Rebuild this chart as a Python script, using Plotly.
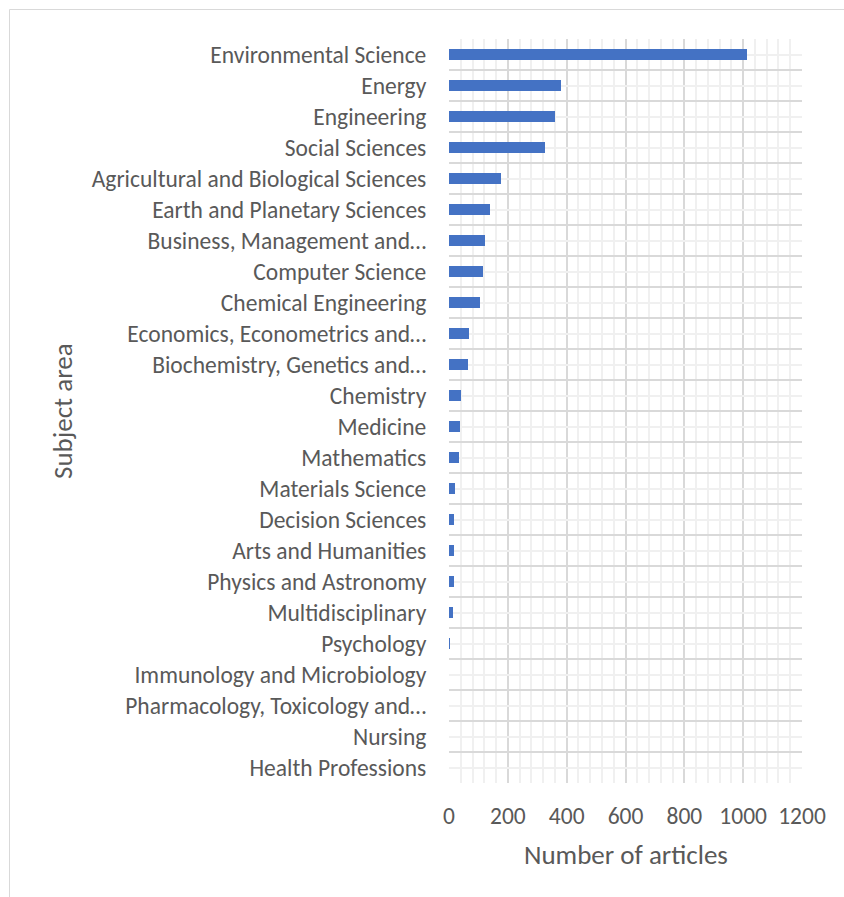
import plotly.graph_objects as go

# Articles per subject area (top to bottom as listed)
subjects = [
    "Environmental Science",
    "Energy",
    "Engineering",
    "Social Sciences",
    "Agricultural and Biological Sciences",
    "Earth and Planetary Sciences",
    "Business, Management and…",
    "Computer Science",
    "Chemical Engineering",
    "Economics, Econometrics and…",
    "Biochemistry, Genetics and…",
    "Chemistry",
    "Medicine",
    "Mathematics",
    "Materials Science",
    "Decision Sciences",
    "Arts and Humanities",
    "Physics and Astronomy",
    "Multidisciplinary",
    "Psychology",
    "Immunology and Microbiology",
    "Pharmacology, Toxicology and…",
    "Nursing",
    "Health Professions",
]
articles = [1013, 381, 360, 328, 178, 139, 122, 117, 104, 69, 63,
            40, 37, 34, 20, 18, 16, 16, 12, 2, 0, 0, 0, 0]

x_ticks = [0, 200, 400, 600, 800, 1000, 1200]
x_title = "Number of articles"
y_title = "Subject area"

FONT = "Carlito, Calibri, 'Open Sans', sans-serif"
TXT = "#595959"
MAJOR = "#D9D9D9"
MINOR = "#F0F0F0"
FS = 23.5
FS_TITLE = 27

n = len(subjects)
pos = list(range(n))
bounds = [i - 0.5 for i in range(n + 1)]

fig = go.Figure(
    go.Bar(
        x=articles,
        y=pos,
        orientation="h",
        width=0.36,
        marker=dict(color="#4472C4", line=dict(width=0)),
    )
)

W, H = 844, 897
L, R, T, B = 449, 42, 39, 114
pw, ph = W - L - R, H - T - B

fig.update_layout(
    width=W,
    height=H,
    margin=dict(l=L, r=R, t=T, b=B, autoexpand=False),
    paper_bgcolor="white",
    plot_bgcolor="white",
    font=dict(family=FONT, size=FS, color=TXT),
    showlegend=False,
    bargap=0,
)

fig.update_xaxes(
    range=[0, 1200],
    tickvals=x_ticks,
    ticks="outside",
    ticklen=12,
    tickcolor="rgba(0,0,0,0)",
    showgrid=True,
    gridcolor=MAJOR,
    gridwidth=1.6,
    zeroline=False,
    showline=False,
    minor=dict(dtick=40, showgrid=True, gridcolor=MINOR, gridwidth=1.5),
    tickfont=dict(size=FS, color=TXT),
    fixedrange=True,
)

fig.update_yaxes(
    range=[n - 0.5, -0.5],
    tickvals=pos,
    ticktext=subjects,
    ticks="outside",
    ticklen=17,
    tickcolor="rgba(0,0,0,0)",
    showgrid=True,
    gridcolor=MINOR,
    gridwidth=1.5,
    zeroline=False,
    showline=False,
    minor=dict(tickvals=bounds, showgrid=True, gridcolor=MAJOR, gridwidth=1.6),
    tickfont=dict(size=FS, color=TXT),
    fixedrange=True,
)

# Axis titles placed in pixel terms relative to the plotting area
def px_x(px):
    return (px - L) / pw

def px_y(py):
    return 1 - (py - T) / ph

fig.add_annotation(
    text=x_title, xref="paper", yref="paper",
    x=px_x(626), y=px_y(855), xanchor="center", yanchor="middle",
    showarrow=False,
    font=dict(size=FS_TITLE, color=TXT, family=FONT),
)
fig.add_annotation(
    text=y_title, xref="paper", yref="paper",
    x=px_x(62), y=px_y(411), xanchor="center", yanchor="middle",
    showarrow=False, textangle=-90,
    font=dict(size=FS_TITLE, color=TXT, family=FONT),
)

# Chart-area frame
fig.add_shape(
    type="rect", xref="paper", yref="paper",
    x0=px_x(9.5), y0=px_y(H + 5), x1=px_x(W + 5), y1=px_y(9.5),
    line=dict(color=MAJOR, width=1), fillcolor="rgba(0,0,0,0)",
    layer="below",
)

fig.write_html("out.html")
